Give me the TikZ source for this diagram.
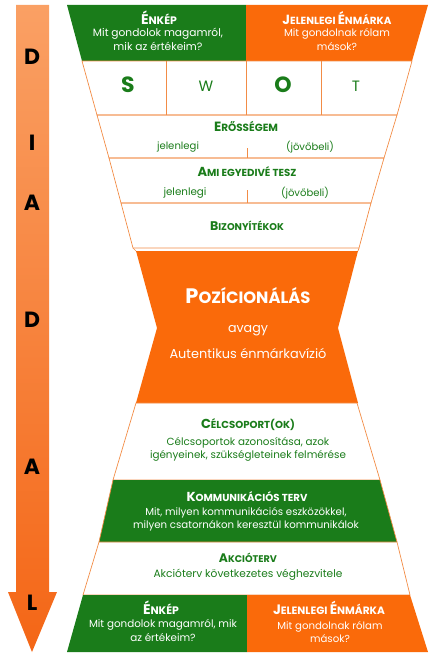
\documentclass[tikz,border=0pt]{standalone}
\usepackage{fontspec}
\setmainfont{Poppins}
\definecolor{dgreen}{RGB}{26,124,26}
\definecolor{dorange}{RGB}{250,106,10}
\definecolor{lineor}{RGB}{242,140,70}
\definecolor{arrowtop}{RGB}{250,160,100}
\definecolor{arrowbot}{RGB}{244,102,22}
\newlength\mw
\def\fk{1}
\newcommand\fitto[2]{\def\fk{1}\settowidth\mw{#2}\edef\fk{\fpeval{#1/\mw}}}
\newcommand\bodyf[1]{\fontsize{\fpeval{round(10*\fk,2)}}{#1}\selectfont}
\newcommand\fitbody[3]{\fitto{#1}{\bodyf{#3}#2}\bodyf{#3}}
\newcommand\scap[2]{{\fontsize{\fpeval{round(10*\fk,2)}}{12}\selectfont #1}{\fontsize{\fpeval{round(7.8*\fk,2)}}{12}\selectfont #2}}
\newcommand\fittitle[2]{\fitto{#1}{#2}#2}
\begin{document}
\begin{tikzpicture}[x=1pt,y=-1pt,
  body/.style={inner sep=0pt, align=center},
  gtext/.style={body, text=dgreen},
  wtext/.style={body, text=white},
  gtitle/.style={inner sep=0pt, text=dgreen, font=\bfseries},
  wtitle/.style={inner sep=0pt, text=white, font=\bfseries},
  letter/.style={inner sep=0pt, font=\fontsize{22}{24}\selectfont\bfseries, text=black},
  edge/.style={draw=lineor, line width=0.7pt},
  swotbig/.style={inner sep=0pt, text=dgreen, font=\fontsize{22}{24}\selectfont\bfseries},
  swotsmall/.style={inner sep=0pt, text=dgreen, font=\fontsize{15}{18}\selectfont}]
\useasboundingbox (0,0) rectangle (437,658);
% arrow
\shade[top color=arrowtop, bottom color=arrowbot] (16,5) -- (49,5) -- (49,592) -- (57,592) -- (32,652) -- (8,592) -- (16,592) -- cycle;
\node[letter] (l1) at (32,57) {D};
\node[letter] (l2) at (32,143) {I};
\node[letter] (l3) at (32,203) {A};
\node[letter] (l4) at (32,320) {D};
\node[letter] (l5) at (32,467) {A};
\node[letter] (l6) at (32,603) {L};
% top row
\fill[dgreen] (67,5) -- (246,5) -- (246,61) -- (82,61) -- cycle;
\fill[dorange] (246,5) -- (428,5) -- (412,61) -- (246,61) -- cycle;
% SWOT row
\path[edge] (82,61) -- (412,61) -- (397,115) -- (97,115) -- cycle;
\path[edge] (166,61) -- (166,115) (246,61) -- (246,115) (321,61) -- (321,115);
% Erossegem
\path[edge] (97,115) -- (397,115) -- (384,158) -- (109,158) -- cycle;
\path[edge] (247,148) -- (247,158);
% Ami egyedive
\path[edge] (109,158) -- (384,158) -- (371,203) -- (121,203) -- cycle;
\path[edge] (247,190) -- (247,203);
% Bizonyitekok
\path[edge] (121,203) -- (371,203) -- (359,248) -- (133,248) -- cycle;
\path[edge] (133,248) -- (136,251) (359,248) -- (358,251);
% middle
\fill[dorange] (136,251) -- (358,251) -- (338,328) -- (358,403) -- (136,403) -- (157,328) -- cycle;
% lower rows
\path[edge] (136,403) -- (357,403) -- (380,480) -- (113,480) -- cycle;
\fill[dgreen] (113,480) -- (380,480) -- (397,542) -- (99,542) -- cycle;
\path[edge] (113,480) -- (99,542) (380,480) -- (397,542);
\path[edge] (99,542) -- (397,542) -- (410,595) -- (83,595) -- cycle;
\fill[dgreen] (83,595) -- (247,595) -- (247,652) -- (67,652) -- cycle;
\fill[dorange] (247,595) -- (410,595) -- (428,652) -- (247,652) -- cycle;
% texts top
\node[wtitle] (t1) at (159,18) {\fittitle{36}{\scap{É}{NKÉP}}};
\node[wtext, font={\fitbody{130}{Mit gondolok magamról,}{14}}] (t1b) at (158,39) {Mit gondolok magamról,\\mik az értékeim?};
\node[wtitle] (t2) at (337,18) {\fittitle{109}{\scap{J}{ELENLEGI }\scap{É}{NMÁRKA}}};
\node[wtext, font={\fitbody{106}{Mit gondolnak rólam}{14}}] (t2b) at (337,39) {Mit gondolnak rólam\\mások?};
\node[swotbig] (s) at (128,85) {S};
\node[swotsmall] (w) at (206,86) {W};
\node[swotbig] (o) at (283,85) {O};
\node[swotsmall] (t) at (356,86) {T};
\node[gtitle] (e1) at (246,126) {\fittitle{64}{\scap{E}{RŐSSÉGEM}}};
\node[gtext, font={\fitbody{42}{jelenlegi}{12}}] (e2) at (178,147) {jelenlegi};
\node[gtext, font={\fitbody{48}{(jövőbeli)}{12}}] (e3) at (310,147) {(jövőbeli)};
\node[gtitle] (a1) at (247,172) {\fittitle{99}{\scap{A}{MI EGYEDIVÉ TESZ}}};
\node[gtext, font={\fitbody{43}{jelenlegi}{12}}] (a2) at (185,193) {jelenlegi};
\node[gtext, font={\fitbody{48}{(jövőbeli)}{12}}] (a3) at (305,193) {(jövőbeli)};
\node[gtitle] (b1) at (247,226) {\fittitle{74}{\scap{B}{IZONYÍTÉKOK}}};
\node[wtitle] (p1) at (248,296) {\fittitle{125}{\scap{P}{OZÍCIONÁLÁS}}};
\node[wtext, font={\fitbody{40}{avagy}{12}}] (p2) at (248,331) {avagy};
\node[wtext, font={\fitbody{157}{Autentikus énmárkavízió}{12}}] (p3) at (248,353) {Autentikus énmárkavízió};
\node[gtitle] (c1) at (248,425) {\fittitle{94}{\scap{C}{ÉLCSOPORT(OK)}}};
\node[gtext, font={\fitbody{196}{igényeinek, szükségleteinek felmérése}{13}}] (c2) at (248,449.5) {Célcsoportok azonosítása, azok\\igényeinek, szükségleteinek felmérése};
\node[wtitle] (k1) at (247,497) {\fittitle{121}{\scap{K}{OMMUNIKÁCIÓS TERV}}};
\node[wtext, font={\fitbody{226}{milyen csatornákon keresztül kommunikálok}{13}}] (k2) at (246,519.5) {Mit, milyen kommunikációs eszközökkel,\\milyen csatornákon keresztül kommunikálok};
\node[gtitle] (ak1) at (248,558) {\fittitle{58}{\scap{A}{KCIÓTERV}}};
\node[gtext, font={\fitbody{189}{Akcióterv következetes véghezvitele}{12}}] (ak2) at (248,575) {Akcióterv következetes véghezvitele};
\node[wtitle] (bt1) at (161,608) {\fittitle{36}{\scap{É}{NKÉP}}};
\node[wtext, font={\fitbody{148}{Mit gondolok magamról, mik}{14}}] (bt1b) at (163,630) {Mit gondolok magamról, mik\\az értékeim?};
\node[wtitle] (bt2) at (329,608) {\fittitle{112}{\scap{J}{ELENLEGI }\scap{É}{NMÁRKA}}};
\node[wtext, font={\fitbody{105}{Mit gondolnak rólam}{13}}] (bt2b) at (330,632.5) {Mit gondolnak rólam\\mások?};
\end{tikzpicture}
\end{document}
